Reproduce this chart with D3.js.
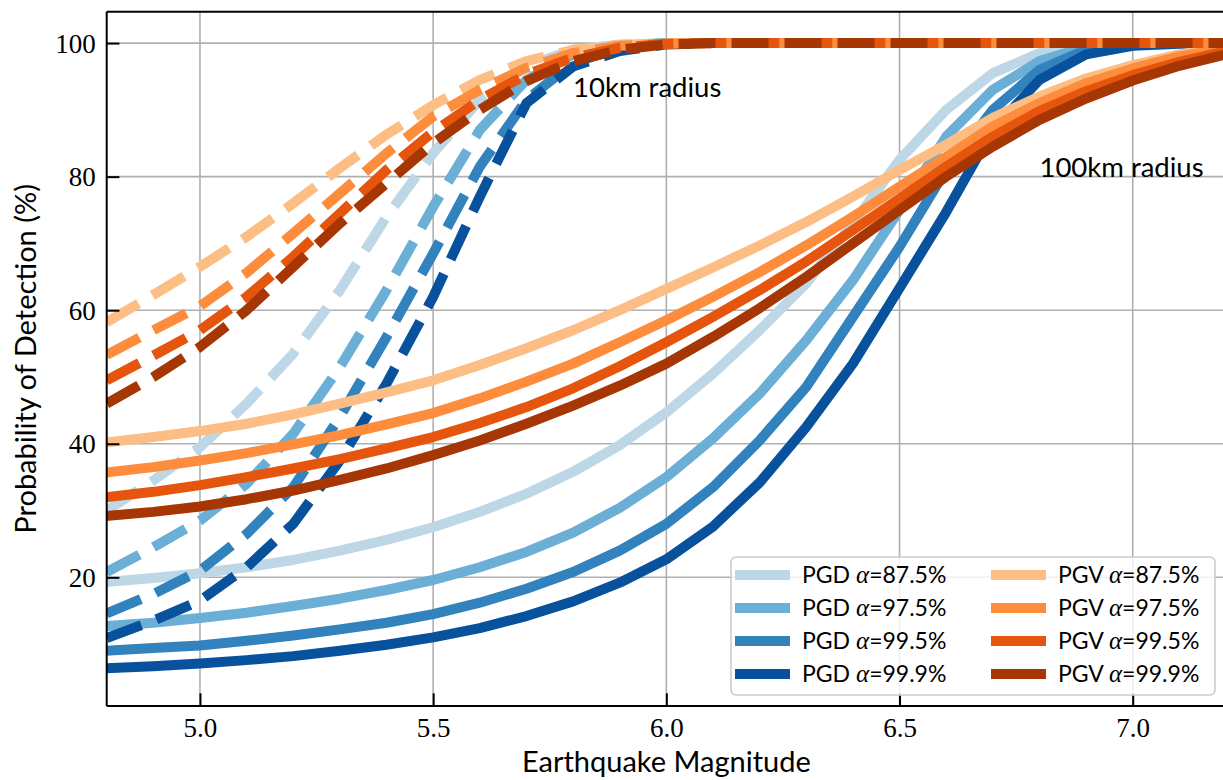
<!DOCTYPE html>
<html>
<head>
<meta charset="utf-8">
<script src="https://cdn.jsdelivr.net/npm/d3@7"></script>
<style>
  html, body { margin: 0; padding: 0; background: #fff; }
  svg { display: block; }
</style>
</head>
<body>
<div id="chart"></div>
<script>
// ---------------- DATA ----------------
const magnitudes = [4.8,4.9,5.0,5.1,5.2,5.3,5.4,5.5,5.6,5.7,5.8,5.9,6.0,6.1,6.2,6.3,6.4,6.5,6.6,6.7,6.8,6.9,7.0,7.1,7.2];

const seriesNames = ["PGD α=87.5%","PGD α=97.5%","PGD α=99.5%","PGD α=99.9%","PGV α=87.5%","PGV α=97.5%","PGV α=99.5%","PGV α=99.9%"];
const seriesColors = ["#bdd7e7","#6baed6","#3182bd","#08519c","#fdbe85","#fd8d3c","#e6550d","#a63603"];

// 100 km radius (solid)
const pgd875_100 = [19.3,19.9,20.6,21.5,22.6,24.0,25.6,27.5,29.8,32.5,35.8,39.8,44.7,50.5,57.0,64.0,73.0,82.5,90.0,95.5,98.5,99.7,100,100,100];
const pgd975_100 = [12.7,13.2,13.9,14.7,15.7,16.8,18.1,19.6,21.5,23.8,26.7,30.4,35.0,40.8,47.5,55.5,64.5,75.0,86.0,93.0,97.3,99.4,100,100,100];
const pgd995_100 = [9.0,9.4,9.8,10.5,11.3,12.2,13.2,14.5,16.2,18.3,20.8,24.0,28.0,33.5,40.5,48.5,59.0,69.5,81.0,90.0,96.0,99.0,99.9,100,100];
const pgd999_100 = [6.4,6.7,7.1,7.6,8.2,9.0,9.9,11.0,12.4,14.2,16.4,19.2,22.7,27.6,34.2,42.5,52.0,63.3,74.7,87.0,94.5,98.3,99.6,99.9,100];
const pgv875_100 = [40.2,41.0,41.9,43.0,44.4,46.0,47.7,49.5,51.8,54.3,57.0,60.0,63.2,66.4,69.7,73.2,77.0,81.0,84.8,88.8,92.0,94.7,96.7,98.3,99.4];
const pgv975_100 = [35.7,36.5,37.5,38.6,39.9,41.3,42.9,44.6,46.8,49.3,52.0,55.2,58.5,62.0,65.7,69.7,74.0,78.5,83.0,87.5,91.0,94.0,96.2,98.0,99.2];
const pgv995_100 = [32.0,32.8,33.8,35.0,36.3,37.7,39.3,41.0,43.1,45.5,48.3,51.6,55.2,59.0,63.0,67.3,72.0,76.7,81.5,86.0,89.8,92.8,95.2,97.2,98.8];
const pgv999_100 = [29.2,29.8,30.6,31.7,33.0,34.6,36.3,38.3,40.5,43.0,45.7,48.7,52.0,56.0,60.3,65.0,70.0,75.0,80.0,84.5,88.5,91.7,94.4,96.6,98.3];

// 10 km radius (dashed)
const pgd875_10 = [30.0,34.5,39.5,46.0,53.5,63.0,74.0,83.5,91.5,96.5,99.0,99.8,100,100,100,100,100,100,100,100,100,100,100,100,100];
const pgd975_10 = [20.8,24.5,28.5,34.0,41.5,51.5,63.0,75.5,87.0,94.5,98.3,99.6,100,100,100,100,100,100,100,100,100,100,100,100,100];
const pgd995_10 = [14.6,17.5,21.0,26.5,33.5,44.0,56.0,68.5,81.5,91.5,97.0,99.3,99.9,100,100,100,100,100,100,100,100,100,100,100,100];
const pgd999_10 = [10.9,13.5,16.5,21.5,28.0,37.5,49.0,62.0,77.0,91.0,96.5,98.8,99.8,100,100,100,100,100,100,100,100,100,100,100,100];
const pgv875_10 = [58.2,62.3,66.5,71.0,76.0,81.3,86.3,90.7,94.5,97.3,99.0,99.7,100,100,100,100,100,100,100,100,100,100,100,100,100];
const pgv975_10 = [53.3,57.0,60.6,65.6,71.5,77.5,83.5,89.0,93.0,96.3,98.5,99.6,99.9,100,100,100,100,100,100,100,100,100,100,100,100];
const pgv995_10 = [49.5,53.2,57.0,62.0,68.0,74.5,81.0,86.7,91.5,95.3,97.8,99.3,99.9,100,100,100,100,100,100,100,100,100,100,100,100];
const pgv999_10 = [46.0,50.0,54.5,60.0,66.5,73.0,79.0,85.0,90.0,94.3,97.3,99.0,99.8,100,100,100,100,100,100,100,100,100,100,100,100];

const solidSeries = [pgd875_100,pgd975_100,pgd995_100,pgd999_100,pgv875_100,pgv975_100,pgv995_100,pgv999_100];
const dashedSeries = [pgd875_10,pgd975_10,pgd995_10,pgd999_10,pgv875_10,pgv975_10,pgv995_10,pgv999_10];

const xTickValues = [5.0,5.5,6.0,6.5,7.0];
const xTickLabels = ["5.0","5.5","6.0","6.5","7.0"];
const yTickValues = [20,40,60,80,100];
const yTickLabels = ["20","40","60","80","100"];
const xDomain = [4.8, 7.2];
const yDomain = [0.73, 104.7];

const annotations = [
  {text: "10km radius", x: 5.8, y: 92},
  {text: "100km radius", x: 6.8, y: 80}
];

// ---------------- LAYOUT ----------------
(function () {
const W = 1223, H = 780;
const pL = 106.7, pR = 1226, pT = 11.7, pB = 706;

const svg = d3.select("#chart").append("svg")
  .attr("width", W).attr("height", H)
  .attr("viewBox", `0 0 ${W} ${H}`);

const x = d3.scaleLinear().domain(xDomain).range([pL, pR]);
const y = d3.scaleLinear().domain(yDomain).range([pB, pT]);

svg.append("defs").append("clipPath").attr("id", "plotclip")
  .append("rect").attr("x", pL).attr("y", pT)
  .attr("width", pR - pL).attr("height", pB - pT);

// grid
const grid = svg.append("g");
grid.selectAll("line.gx").data(xTickValues).enter().append("line")
  .attr("x1", d => x(d)).attr("x2", d => x(d))
  .attr("y1", pT).attr("y2", pB)
  .attr("stroke", "#b0b0b0").attr("stroke-width", 1.6);
grid.selectAll("line.gy").data(yTickValues).enter().append("line")
  .attr("x1", pL).attr("x2", pR)
  .attr("y1", d => y(d)).attr("y2", d => y(d))
  .attr("stroke", "#b0b0b0").attr("stroke-width", 1.6);

// lines
const lineGen = d3.line().x((d, i) => x(magnitudes[i])).y(d => y(d));
const linesG = svg.append("g").attr("clip-path", "url(#plotclip)");
const LW = 10;
seriesNames.forEach((name, k) => {
  linesG.append("path")
    .datum(dashedSeries[k])
    .attr("d", lineGen)
    .attr("fill", "none")
    .attr("stroke", seriesColors[k])
    .attr("stroke-width", LW)
    .attr("stroke-dasharray", "37,16")
    .attr("stroke-linecap", "butt")
    .attr("stroke-linejoin", "round");
  linesG.append("path")
    .datum(solidSeries[k])
    .attr("d", lineGen)
    .attr("fill", "none")
    .attr("stroke", seriesColors[k])
    .attr("stroke-width", LW)
    .attr("stroke-linecap", "square")
    .attr("stroke-linejoin", "round");
});

// axes (inward ticks)
const xAxis = d3.axisBottom(x).tickValues(xTickValues)
  .tickFormat((d, i) => xTickLabels[i]).tickSizeInner(-12.7).tickSizeOuter(0);
const yAxis = d3.axisLeft(y).tickValues(yTickValues)
  .tickFormat((d, i) => yTickLabels[i]).tickSizeInner(-12.7).tickSizeOuter(0);

const gx = svg.append("g").attr("transform", `translate(0,${pB})`).call(xAxis);
const gy = svg.append("g").attr("transform", `translate(${pL},0)`).call(yAxis);
[gx, gy].forEach(g => {
  g.select(".domain").remove();
  g.selectAll(".tick line").attr("stroke", "#000").attr("stroke-width", 2);
  g.selectAll(".tick text")
    .attr("font-family", "'Liberation Serif', 'DejaVu Serif', serif")
    .attr("font-size", 27).attr("fill", "#000");
});
gx.selectAll(".tick text").attr("y", 31).attr("dy", null);
gy.selectAll(".tick text").attr("x", -11).attr("dy", "0.34em");

// spines
const spines = svg.append("g").attr("stroke", "#000").attr("stroke-width", 2).attr("fill", "none");
spines.append("line").attr("x1", pL).attr("x2", pL).attr("y1", pT).attr("y2", pB);
spines.append("line").attr("x1", pL).attr("x2", pR).attr("y1", pB).attr("y2", pB);
spines.append("line").attr("x1", pL).attr("x2", pR).attr("y1", pT).attr("y2", pT);
spines.append("line").attr("x1", pR).attr("x2", pR).attr("y1", pT).attr("y2", pB);

// axis labels
svg.append("text")
  .attr("x", (pL + pR) / 2).attr("y", 772)
  .attr("text-anchor", "middle")
  .attr("font-family", "Lato, 'Open Sans', sans-serif")
  .attr("font-size", 29).attr("fill", "#000")
  .text("Earthquake Magnitude");
svg.append("text")
  .attr("transform", `translate(36,${(pT + pB) / 2}) rotate(-90)`)
  .attr("text-anchor", "middle")
  .attr("font-family", "Lato, 'Open Sans', sans-serif")
  .attr("font-size", 29).attr("fill", "#000")
  .text("Probability of Detection (%)");

// annotations
svg.selectAll("text.annot").data(annotations).enter().append("text")
  .attr("class", "annot")
  .attr("x", d => x(d.x)).attr("y", d => y(d.y))
  .attr("font-family", "Lato, 'Open Sans', sans-serif")
  .attr("font-size", 27.5).attr("fill", "#000")
  .text(d => d.text);

// legend
const legend = svg.append("g");
legend.append("rect")
  .attr("x", 731).attr("y", 557).attr("width", 484).attr("height", 138)
  .attr("rx", 5).attr("ry", 5)
  .attr("fill", "rgba(255,255,255,0.8)")
  .attr("stroke", "#cccccc").attr("stroke-width", 1.6);
const rowY = [575, 608, 641, 674];
const colX = [735, 991];
seriesNames.forEach((name, k) => {
  const col = Math.floor(k / 4), row = k % 4;
  const hx = colX[col], hy = rowY[row];
  legend.append("line")
    .attr("x1", hx).attr("x2", hx + 55)
    .attr("y1", hy).attr("y2", hy)
    .attr("stroke", seriesColors[k]).attr("stroke-width", LW);
  const parts = name.split("α");
  const t = legend.append("text")
    .attr("x", hx + 67).attr("y", hy + 8)
    .attr("font-family", "Lato, 'Open Sans', sans-serif")
    .attr("font-size", 23).attr("fill", "#000");
  t.append("tspan").text(parts[0]);
  t.append("tspan")
    .attr("font-family", "'Liberation Serif', 'DejaVu Serif', serif")
    .attr("font-style", "italic").attr("font-size", 25)
    .text("α");
  t.append("tspan").text(parts[1]);
});
})();
</script>
</body>
</html>
